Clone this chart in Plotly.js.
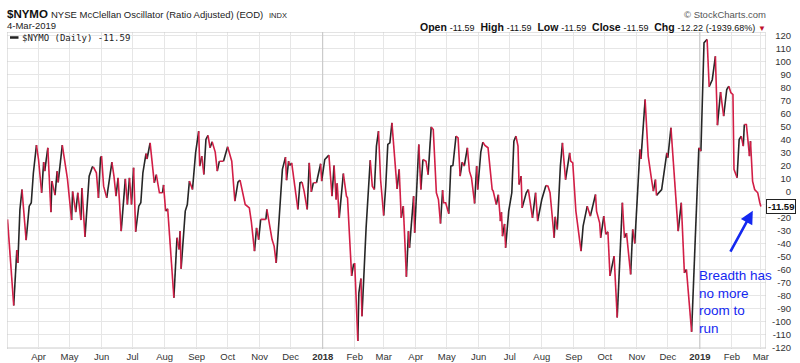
<!DOCTYPE html>
<html><head><meta charset="utf-8">
<script src="https://cdn.plot.ly/plotly-3.0.1.min.js"></script>
<style>html,body{margin:0;padding:0;background:#fff}#chart{width:800px;height:363px}</style>
</head><body><div id="chart"></div>
<script>
const dates = ["2017-03-02","2017-03-08","2017-03-11","2017-03-12","2017-03-14","2017-03-16","2017-03-20","2017-03-23","2017-03-25","2017-03-27","2017-03-30","2017-04-01","2017-04-04","2017-04-06","2017-04-07","2017-04-10","2017-04-13","2017-04-14","2017-04-17","2017-04-19","2017-04-20","2017-04-24","2017-04-28","2017-04-29","2017-05-03","2017-05-04","2017-05-07","2017-05-09","2017-05-12","2017-05-13","2017-05-16","2017-05-20","2017-05-23","2017-05-24","2017-05-27","2017-05-29","2017-05-31","2017-06-01","2017-06-03","2017-06-06","2017-06-08","2017-06-11","2017-06-13","2017-06-15","2017-06-17","2017-06-20","2017-06-24","2017-06-26","2017-06-28","2017-06-30","2017-07-02","2017-07-04","2017-07-07","2017-07-09","2017-07-11","2017-07-14","2017-07-15","2017-07-18","2017-07-22","2017-07-24","2017-07-27","2017-07-30","2017-07-31","2017-08-02","2017-08-04","2017-08-10","2017-08-13","2017-08-15","2017-08-16","2017-08-17","2017-08-21","2017-08-23","2017-08-25","2017-08-28","2017-08-31","2017-09-03","2017-09-04","2017-09-06","2017-09-08","2017-09-10","2017-09-12","2017-09-14","2017-09-16","2017-09-19","2017-09-21","2017-09-23","2017-09-27","2017-10-01","2017-10-05","2017-10-08","2017-10-11","2017-10-13","2017-10-18","2017-10-22","2017-10-24","2017-10-27","2017-10-29","2017-10-31","2017-11-02","2017-11-07","2017-11-08","2017-11-13","2017-11-15","2017-11-17","2017-11-23","2017-11-26","2017-11-27","2017-11-29","2017-11-30","2017-12-02","2017-12-04","2017-12-08","2017-12-10","2017-12-12","2017-12-14","2017-12-17","2017-12-19","2017-12-21","2017-12-23","2017-12-26","2017-12-30","2017-12-31","2018-01-03","2018-01-07","2018-01-10","2018-01-12","2018-01-14","2018-01-15","2018-01-17","2018-01-21","2018-01-24","2018-01-25","2018-01-29","2018-01-31","2018-02-01","2018-02-04","2018-02-05","2018-02-07","2018-02-08","2018-02-12","2018-02-16","2018-02-18","2018-02-20","2018-02-22","2018-02-24","2018-02-26","2018-03-01","2018-03-03","2018-03-05","2018-03-07","2018-03-09","2018-03-11","2018-03-14","2018-03-16","2018-03-18","2018-03-20","2018-03-23","2018-03-25","2018-03-26","2018-03-30","2018-03-31","2018-04-04","2018-04-06","2018-04-08","2018-04-11","2018-04-13","2018-04-16","2018-04-18","2018-04-21","2018-04-23","2018-04-25","2018-04-27","2018-04-28","2018-04-30","2018-05-03","2018-05-05","2018-05-07","2018-05-10","2018-05-12","2018-05-14","2018-05-16","2018-05-18","2018-05-21","2018-05-23","2018-05-25","2018-05-28","2018-05-30","2018-05-31","2018-06-03","2018-06-05","2018-06-07","2018-06-10","2018-06-12","2018-06-14","2018-06-15","2018-06-18","2018-06-20","2018-06-22","2018-06-23","2018-06-24","2018-06-26","2018-06-27","2018-06-30","2018-07-03","2018-07-05","2018-07-07","2018-07-09","2018-07-10","2018-07-12","2018-07-13","2018-07-17","2018-07-19","2018-07-22","2018-07-23","2018-07-26","2018-07-28","2018-08-01","2018-08-05","2018-08-07","2018-08-09","2018-08-13","2018-08-14","2018-08-16","2018-08-19","2018-08-21","2018-08-24","2018-08-28","2018-08-29","2018-08-31","2018-09-03","2018-09-08","2018-09-10","2018-09-14","2018-09-17","2018-09-22","2018-09-23","2018-09-26","2018-09-27","2018-09-30","2018-10-02","2018-10-04","2018-10-06","2018-10-10","2018-10-13","2018-10-15","2018-10-18","2018-10-20","2018-10-22","2018-10-26","2018-10-28","2018-10-30","2018-11-04","2018-11-05","2018-11-07","2018-11-09","2018-11-12","2018-11-15","2018-11-17","2018-11-19","2018-11-20","2018-11-25","2018-11-30","2018-12-01","2018-12-04","2018-12-09","2018-12-11","2018-12-14","2018-12-17","2018-12-19","2018-12-24","2018-12-28","2018-12-31","2019-01-02","2019-01-05","2019-01-08","2019-01-10","2019-01-13","2019-01-16","2019-01-18","2019-01-21","2019-01-24","2019-01-27","2019-01-29","2019-01-31","2019-02-02","2019-02-03","2019-02-06","2019-02-08","2019-02-10","2019-02-12","2019-02-13","2019-02-15","2019-02-18","2019-02-19","2019-02-21","2019-02-23","2019-02-26","2019-02-28","2019-03-01","2019-03-04"];
const nymo = [-21.5,-87.7,-45,-55,-14,1.5,-37.4,-11.3,-8.7,14,35.6,24.6,-1,22.6,15.6,33.6,-15.9,8,-2.8,15.6,7,35.6,11.8,9.7,-22,0,-15.9,-1,-22,2.6,-34.9,11.8,18.7,19,14.4,-4.9,25.9,27.2,4.1,-4.9,5.4,22.6,11.8,-3.6,10.5,-30.5,9.7,-10,10.5,-10,18.2,-31,-11.3,-8.7,14.4,29.2,25,37.4,6.7,13,-1,-1,5,-15.1,-13.3,-81.8,-35.6,-44.6,-30.5,-59.5,-15.1,-10,8,1.5,29.7,46.4,19.5,27.2,13.1,40,43.1,33.6,38.2,30.3,15.6,23.3,23.3,34.4,23.3,-7.4,7.2,8.7,-10,-12.6,-23.6,-45.9,-28,-37,-21.5,-21.5,-13.8,-37,-42,-55,17,26.4,8.7,23.3,20,22,10.5,-13.8,6.7,7.2,0.3,-13.8,22,-0.3,6.7,6.7,21.3,8,24.6,28,-3.6,20,-6.2,6.2,-20.3,13.8,-3.6,-4.9,-65,-55.6,-55.6,-115,-78,-67,-96,-28,24,4.1,1.5,34.9,46.4,9.2,-18.5,4.1,36.2,37.4,52.8,34.9,2,17,-20.3,-11.3,-65.6,-30.5,-43.3,-3.6,-31.8,36.2,1.5,24.6,23.3,13,49.7,47.7,-1,-6.2,-24.6,1,-8.7,-8.7,-17.2,19.5,20,42.6,41.3,11.8,22.6,19.5,33.6,15.6,10.5,-9.2,19.5,1.5,30.3,38,35.4,33.6,17,1.5,0.3,-10,-2.5,-22.8,-16,-34.4,-25,-43.3,-15.1,-1,38.7,42.6,34.9,5.4,11.8,-12.6,-1,1.5,-13.8,-20.3,-1,-22.8,-6.2,4.6,4.1,-1,-35.6,-19.5,-29.2,19.5,37.4,9.2,29.7,23.3,22,-15.1,-45.9,-26.7,-11.3,-19,-2.3,-15.1,-24.1,-35.6,-19,-33,-31,-65,-49.7,-97,-60,-8.7,-35.6,-32,-63.8,-29.2,-40,32.3,25,45,70.8,27.2,10.5,0.3,9.2,-3,1.5,29.7,26,49,-10,-30.5,-8.7,-62.6,-60,-108,-24.1,33.6,31,114.4,117,80.6,86,104,51,76.5,58,78.5,81,76,74.6,17,10.5,40,42.6,34.9,51.5,51.5,27.2,38.7,8,1.5,-1,-8.7,-11.59];

const monthTickVals = ["2017-04-01","2017-05-01","2017-06-01","2017-07-01","2017-08-01","2017-09-01","2017-10-01","2017-11-01","2017-12-01","2018-01-01","2018-02-01","2018-03-01","2018-04-01","2018-05-01","2018-06-01","2018-07-01","2018-08-01","2018-09-01","2018-10-01","2018-11-01","2018-12-01","2019-01-01","2019-02-01","2019-03-01"];
const monthTickText = ["Apr","May","Jun","Jul","Aug","Sep","Oct","Nov","Dec","<b>2018</b>","Feb","Mar","Apr","May","Jun","Jul","Aug","Sep","Oct","Nov","Dec","<b>2019</b>","Feb","Mar"];
const yearLines = ["2018-01-01","2019-01-01"];
const yTickVals = [-120,-110,-100,-90,-80,-70,-60,-50,-40,-30,-20,-10,0,10,20,30,40,50,60,70,80,90,100,110,120];
const lastValue = nymo[nymo.length-1];
const lastDate = dates[dates.length-1];
// the -10 label sits under the last-value tag in the reference
const yTickText = yTickVals.map(v => v === -10 ? '' : String(v));
const yRange = [-121.2, 122.7];
const xRange = ['2017-03-01 12:00', '2019-03-05 12:00'];

// split the series into rising (black) and falling (red) runs
const up = {x:[], y:[]}, dn = {x:[], y:[]};
let cur = null;
for (let i = 0; i < nymo.length - 1; i++) {
  const d = nymo[i+1] > nymo[i] ? up : dn;
  if (d !== cur) {
    if (d.x.length) { d.x.push(null); d.y.push(null); }
    d.x.push(dates[i]); d.y.push(nymo[i]);
    cur = d;
  }
  d.x.push(dates[i+1]); d.y.push(nymo[i+1]);
}

const F = 'Liberation Sans, Arial, sans-serif';
const W = 800, H = 363, ML = 7, MR = 5, MT = 32, MB = 14;
const PW = W - ML - MR, PH = H - MT - MB;
const px = v => (v - ML) / PW;
const py = v => (H - MB - v) / PH;

const traces = [
  {x: up.x, y: up.y, type: 'scatter', mode: 'lines', line: {color: '#262626', width: 1.6}, hoverinfo: 'skip', showlegend: false},
  {x: dn.x, y: dn.y, type: 'scatter', mode: 'lines', line: {color: '#d21e46', width: 1.6}, hoverinfo: 'skip', showlegend: false}
];

const layout = {
  width: W, height: H,
  margin: {l: ML, r: MR, t: MT, b: MB},
  paper_bgcolor: '#fff', plot_bgcolor: '#fff',
  showlegend: false,
  xaxis: {
    type: 'date', domain: [0, (765.5 - ML) / PW],
    range: xRange,
    tickmode: 'array', tickvals: monthTickVals, ticktext: monthTickText,
    showgrid: true, gridcolor: '#e6e6e6', gridwidth: 1,
    ticks: '', zeroline: false, showline: false,
    tickfont: {family: F, size: 9.5, color: '#333'},
    automargin: false, fixedrange: true
  },
  yaxis: {
    range: yRange, side: 'left', anchor: 'free', position: (791 - ML) / PW,
    tickmode: 'array', tickvals: yTickVals, ticktext: yTickText,
    showgrid: true, gridcolor: '#e6e6e6', gridwidth: 1,
    ticks: '', zeroline: false, showline: false,
    tickfont: {family: F, size: 9.5, color: '#333'},
    automargin: false, fixedrange: true
  },
  shapes: [
    ...yearLines.map(d => ({type: 'line', xref: 'x', yref: 'y', x0: d, x1: d, y0: yRange[0], y1: yRange[1], line: {color: '#c4c4c4', width: 1}, layer: 'between'})),
    {type: 'rect', xref: 'x', yref: 'y', x0: xRange[0], x1: xRange[1], y0: yRange[0], y1: yRange[1], line: {color: '#c8c8c8', width: 1}, fillcolor: 'rgba(0,0,0,0)', layer: 'above'},
    {type: 'line', xref: 'paper', yref: 'paper', x0: px(10), x1: px(18.5), y0: py(37.5), y1: py(37.5), line: {color: '#222', width: 2.5}}
  ],
  annotations: [
    {xref: 'paper', yref: 'paper', x: px(5), y: py(14.5), xanchor: 'left', yanchor: 'middle', showarrow: false,
     text: '<b>$NYMO</b>', font: {family: F, size: 11.5, color: '#111'}},
    {xref: 'paper', yref: 'paper', x: px(49), y: py(15), xanchor: 'left', yanchor: 'middle', showarrow: false,
     text: 'NYSE McClellan Oscillator (Ratio Adjusted) (EOD)', font: {family: F, size: 9.5, color: '#222'}},
    {xref: 'paper', yref: 'paper', x: px(267), y: py(15.5), xanchor: 'left', yanchor: 'middle', showarrow: false,
     text: 'INDX', font: {family: F, size: 7.5, color: '#222'}},
    {xref: 'paper', yref: 'paper', x: px(5), y: py(26), xanchor: 'left', yanchor: 'middle', showarrow: false,
     text: '4-Mar-2019', font: {family: F, size: 9.5, color: '#222'}},
    {xref: 'paper', yref: 'paper', x: px(768), y: py(15), xanchor: 'right', yanchor: 'middle', showarrow: false,
     text: '© StockCharts.com', font: {family: F, size: 9.5, color: '#555'}},
    {xref: 'paper', yref: 'paper', x: px(768), y: py(26.5), xanchor: 'right', yanchor: 'middle', showarrow: false,
     text: '<b>Open</b> <span style="font-size:9px">-11.59</span>  <b>High</b> <span style="font-size:9px">-11.59</span>  <b>Low</b> <span style="font-size:9px">-11.59</span>  <b>Close</b> <span style="font-size:9px">-11.59</span>  <b>Chg</b> <span style="font-size:9px">-12.22 (-1939.68%)</span> <span style="color:#c0102c;font-size:8px">▼</span>',
     font: {family: F, size: 10.5, color: '#111'}},
    {xref: 'paper', yref: 'paper', x: px(20), y: py(37.5), xanchor: 'left', yanchor: 'middle', showarrow: false,
     text: '$NYMO (Daily) ' + lastValue.toFixed(2), font: {family: 'DejaVu Sans Mono, monospace', size: 9, color: '#222'}},
    {xref: 'x', yref: 'y', x: lastDate, y: lastValue, xanchor: 'left', yanchor: 'middle', xshift: 2, showarrow: false,
     text: '<b>' + lastValue.toFixed(2) + '</b>', font: {family: F, size: 9.5, color: '#111'},
     bgcolor: '#fff', bordercolor: '#222', borderwidth: 1, borderpad: 1},
    {xref: 'x', yref: 'y', x: '2019-02-21 05:00', y: -14.8, ax: -24, ay: 44, axref: 'pixel', ayref: 'pixel',
     showarrow: true, arrowhead: 2, arrowsize: 1, arrowwidth: 2.6, arrowcolor: '#1428f0', text: ' ', font: {size: 2}},
    {xref: 'paper', yref: 'paper', x: px(697), y: py(266), xanchor: 'left', yanchor: 'top', align: 'left', showarrow: false,
     text: 'Breadth has<br>no more<br>room to<br>run', font: {family: F, size: 13.5, color: '#1428f0'}}
  ]
};

Plotly.newPlot('chart', traces, layout, {staticPlot: true, displayModeBar: false});
</script>
</body></html>
